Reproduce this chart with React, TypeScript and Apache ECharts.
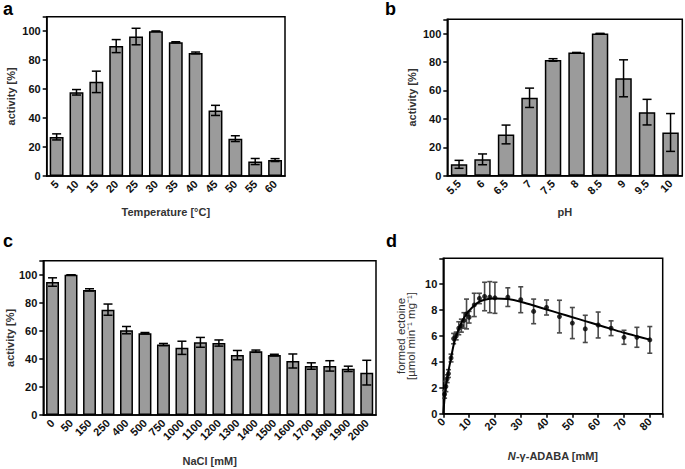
import React, { useEffect, useRef } from "react";
import * as echarts from "echarts";

// Panel a: temperature
const tempCats = ["5", "10", "15", "20", "25", "30", "35", "40", "45", "50", "55", "60"];
const tempVals = [27, 57.8, 65, 89.7, 96.3, 100, 92.3, 85, 45.3, 25.8, 10, 11];
const tempErrs = [2.1, 1.9, 7.4, 4.5, 5.7, 0, 0.4, 0.6, 3.5, 2, 2.1, 1];

// Panel b: pH
const phCats = ["5.5", "6", "6.5", "7", "7.5", "8", "8.5", "9", "9.5", "10"];
const phVals = [8, 11.5, 29, 54.8, 81.4, 86.6, 100, 68.5, 44.7, 30.4];
const phErrs = [2.8, 3.8, 6.6, 6.8, 0.9, 0, 0, 13, 9, 13.3];

// Panel c: NaCl
const naclCats = ["0", "50", "150", "250", "400", "500", "750", "1000", "1100", "1200", "1300", "1400", "1500", "1600", "1700", "1800", "1900", "2000"];
const naclVals = [94.8, 100, 89.2, 75.1, 60.5, 58.3, 50.2, 47.9, 51.8, 51.3, 42.7, 45.5, 42.7, 38.5, 34.9, 35, 32.9, 30.2];
const naclErrs = [3, 0, 0.8, 4, 2.6, 0.5, 0.8, 4.7, 3.5, 2.2, 3.3, 0.8, 0.6, 5, 2.3, 3.7, 1.9, 8.8];

// Panel d: N-γ-ADABA kinetics
const kinX = [0.5, 1, 1.5, 2, 3, 4, 5, 6, 7, 8, 9, 10, 12, 14, 16, 18, 20, 25, 30, 35, 40, 45, 50, 55, 60, 65, 70, 75, 80];
const kinY = [1.5, 2.1, 2.7, 3.1, 4.3, 5.8, 6.0, 6.6, 6.8, 7.2, 7.7, 7.45, 8.4, 8.9, 9.05, 9.0, 8.95, 9.0, 8.8, 7.9, 8.2, 7.5, 7.0, 6.55, 6.85, 6.6, 5.9, 5.9, 5.7];
const kinErr = [0.3, 0.4, 0.3, 0.3, 0.3, 0.4, 0.3, 0.5, 0.5, 0.6, 1.15, 0.45, 0.9, 0.4, 1.1, 1.2, 1.2, 0.72, 1.0, 0.95, 0.58, 1.26, 1.2, 1.05, 1.0, 0.57, 0.54, 0.77, 1.03];
const fitX = [0, 0.5, 1, 2, 3, 4, 5, 6, 7, 8, 9, 10, 12, 14, 16, 18, 20, 25, 30, 35, 40, 45, 50, 55, 60, 65, 70, 75, 80];
const fitY = [0, 1.2, 2.1, 3.3, 4.3, 5.3, 6.0, 6.55, 7.0, 7.4, 7.7, 7.95, 8.35, 8.65, 8.8, 8.88, 8.9, 8.85, 8.65, 8.35, 8.05, 7.75, 7.45, 7.15, 6.85, 6.55, 6.25, 5.98, 5.72];

const FONT = "'Liberation Sans', Arial, sans-serif";
const BAR_FILL = "#9b9b9b";

const labelStyle = { color: "#111", fontWeight: "bold" as const, fontSize: 11, fontFamily: FONT };
const nameStyle = { color: "#333", fontWeight: "bold" as const, fontSize: 11, fontFamily: FONT };
const lineStyle = { color: "#000", width: 1.5 };

function errRender(cap: number, color: string, width: number) {
  return (params: any, api: any) => {
    const x = api.value(0);
    const lo = api.coord([x, api.value(1)]);
    const hi = api.coord([x, api.value(2)]);
    const st = { stroke: color, lineWidth: width };
    return {
      type: "group",
      children: [
        { type: "line", shape: { x1: hi[0], y1: hi[1], x2: lo[0], y2: lo[1] }, style: st },
        { type: "line", shape: { x1: hi[0] - cap, y1: hi[1], x2: hi[0] + cap, y2: hi[1] }, style: st },
        { type: "line", shape: { x1: lo[0] - cap, y1: lo[1], x2: lo[0] + cap, y2: lo[1] }, style: st },
      ],
    };
  };
}

function catX(idx: number, cats: string[], name: string, gap: number) {
  return {
    type: "category",
    gridIndex: idx,
    data: cats,
    name,
    nameLocation: "middle",
    nameGap: gap,
    nameTextStyle: nameStyle,
    axisLine: { lineStyle },
    axisTick: { alignWithLabel: true, length: 4, lineStyle },
    axisLabel: { ...labelStyle, rotate: 45, interval: 0, margin: 6 },
    splitLine: { show: false },
  };
}

function pctY(idx: number, gap: number) {
  return {
    type: "value",
    gridIndex: idx,
    min: 0,
    max: 110,
    interval: 20,
    name: "activity [%]",
    nameLocation: "middle",
    nameGap: gap,
    nameTextStyle: nameStyle,
    axisLine: { show: true, lineStyle },
    axisTick: { show: true, length: 4, lineStyle },
    axisLabel: { ...labelStyle, margin: 6, formatter: (v: number) => (v > 100 ? "" : String(v)) },
    splitLine: { show: false },
  };
}

function barSeries(idx: number, vals: number[]) {
  return {
    type: "bar",
    xAxisIndex: idx,
    yAxisIndex: idx,
    data: vals,
    barWidth: "70%",
    itemStyle: { color: BAR_FILL, borderColor: "#000", borderWidth: 1.5 },
    z: 2,
  };
}

function errSeries(idx: number, vals: number[], errs: number[], cap: number) {
  return {
    type: "custom",
    xAxisIndex: idx,
    yAxisIndex: idx,
    data: vals.map((v, i) => [i, v - errs[i], v + errs[i]]),
    renderItem: errRender(cap, "#000", 1.5),
    z: 5,
  };
}

export default function App() {
  const ref = useRef<HTMLDivElement>(null);
  useEffect(() => {
    document.body.style.margin = "0";
    const chart = echarts.init(ref.current!, null, { renderer: "svg" });
    const gridBase = { show: true, borderColor: "#000", borderWidth: 1.5, backgroundColor: "transparent", containLabel: false };
    chart.setOption({
      animation: false,
      textStyle: { fontFamily: FONT },
      grid: [
        { ...gridBase, left: 46.7, top: 16.7, width: 238.3, height: 159.3 },
        { ...gridBase, left: 447.3, top: 19.3, width: 235, height: 156.4 },
        { ...gridBase, left: 43.3, top: 260.7, width: 332.7, height: 154.3 },
        { ...gridBase, left: 443.3, top: 258.3, width: 219.4, height: 155.4 },
      ],
      xAxis: [
        catX(0, tempCats, "Temperature [°C]", 30),
        catX(1, phCats, "pH", 31),
        catX(2, naclCats, "NaCl [mM]", 40),
        {
          type: "value",
          gridIndex: 3,
          min: 0,
          max: 85,
          interval: 10,
          name: "{i|N}-γ-ADABA [mM]",
          nameLocation: "middle",
          nameGap: 37,
          nameTextStyle: { ...nameStyle, rich: { i: { ...nameStyle, fontStyle: "italic" } } },
          axisLine: { lineStyle },
          axisTick: { length: 4, lineStyle },
          axisLabel: { ...labelStyle, rotate: 45, margin: 6, formatter: (v: number) => (v > 80 ? "" : String(v)) },
          splitLine: { show: false },
        },
      ],
      yAxis: [
        pctY(0, 30),
        pctY(1, 30),
        pctY(2, 27),
        {
          type: "value",
          gridIndex: 3,
          min: 0,
          max: 12,
          interval: 2,
          name: "formed ectoine\n[µmol min⁻¹ mg⁻¹]",
          nameLocation: "middle",
          nameGap: 27,
          nameTextStyle: { ...nameStyle, fontWeight: "normal", fontSize: 11.5, lineHeight: 10, color: "#333" },
          axisLine: { show: true, lineStyle },
          axisTick: { show: true, length: 4, lineStyle },
          axisLabel: { ...labelStyle, margin: 6, formatter: (v: number) => (v >= 12 ? "" : String(v)) },
          splitLine: { show: false },
        },
      ],
      series: [
        barSeries(0, tempVals),
        errSeries(0, tempVals, tempErrs, 4.5),
        barSeries(1, phVals),
        errSeries(1, phVals, phErrs, 4.5),
        barSeries(2, naclVals),
        errSeries(2, naclVals, naclErrs, 4.5),
        {
          type: "custom",
          xAxisIndex: 3,
          yAxisIndex: 3,
          data: kinX.map((x, i) => [x, kinY[i] - kinErr[i], kinY[i] + kinErr[i]]),
          renderItem: errRender(2.5, "#4a4a4a", 1.6),
          z: 3,
        },
        {
          type: "line",
          xAxisIndex: 3,
          yAxisIndex: 3,
          data: fitX.map((x, i) => [x, fitY[i]]),
          smooth: 0.3,
          showSymbol: false,
          lineStyle: { color: "#000", width: 2 },
          z: 4,
        },
        {
          type: "scatter",
          xAxisIndex: 3,
          yAxisIndex: 3,
          data: kinX.map((x, i) => [x, kinY[i]]),
          symbolSize: 5,
          itemStyle: { color: "#000" },
          z: 5,
        },
      ],
      graphic: [
        { type: "text", left: 3, top: 0, style: { text: "a", font: `bold 18px ${FONT}`, fill: "#000" } },
        { type: "text", left: 385, top: 0, style: { text: "b", font: `bold 18px ${FONT}`, fill: "#000" } },
        { type: "text", left: 3, top: 232, style: { text: "c", font: `bold 18px ${FONT}`, fill: "#000" } },
        { type: "text", left: 386, top: 232, style: { text: "d", font: `bold 18px ${FONT}`, fill: "#000" } },
      ],
    });
    return () => chart.dispose();
  }, []);
  return <div ref={ref} style={{ position: "absolute", left: 0, top: 0, width: 685, height: 469 }} />;
}
